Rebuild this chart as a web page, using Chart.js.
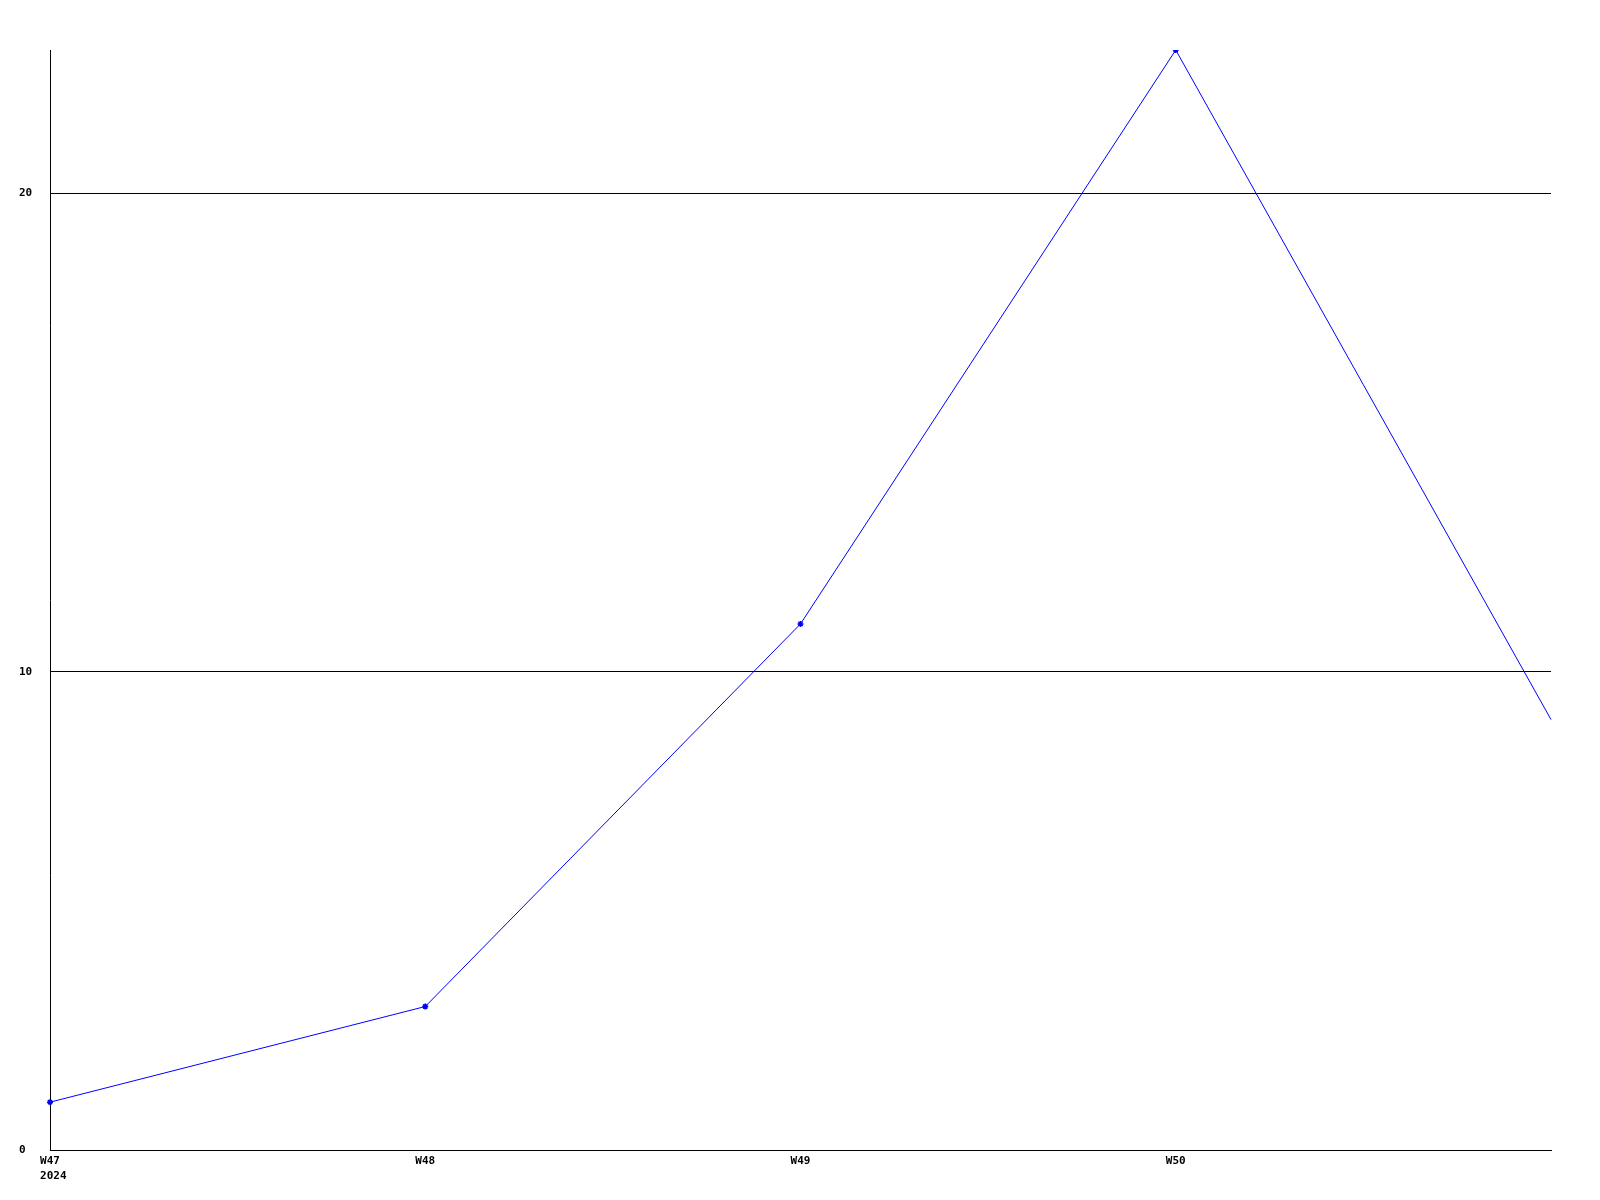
<!DOCTYPE html>
<html>
<head>
<meta charset="utf-8">
<script src="https://cdn.jsdelivr.net/npm/chart.js@4/dist/chart.umd.min.js"></script>
<style>
html,body{margin:0;padding:0;background:#fff;}
canvas{display:block;}
</style>
</head>
<body>
<canvas id="c" width="1600" height="1200"></canvas>
<script>
const weekLabels = ['W47', 'W48', 'W49', 'W50', 'W51'];
const yearLabel = '2024';
const values = [1, 3, 11, 23, 9];
const yTickStep = 10;
const yMax = 23;

const FONT = {family: "'DejaVu Sans Mono', monospace", size: 11, weight: 'bold', lineHeight: 15/11};

new Chart(document.getElementById('c'), {
  type: 'line',
  data: {
    labels: weekLabels,
    datasets: [{
      data: values,
      borderColor: '#0000ff',
      backgroundColor: '#0000ff',
      borderWidth: 1,
      pointStyle: 'star',
      pointRadius: (ctx) => ctx.dataIndex === weekLabels.length - 1 ? 0 : 3,
      pointBorderWidth: 1.5,
      tension: 0,
      fill: false
    }]
  },
  options: {
    responsive: false,
    animation: false,
    devicePixelRatio: 1,
    layout: {padding: {top: 50, right: 49, left: 19, bottom: 0}},
    plugins: {legend: {display: false}, tooltip: {enabled: false}},
    scales: {
      x: {
        type: 'category',
        offset: false,
        grid: {display: false, drawTicks: false},
        border: {display: true, color: '#000', width: 1},
        ticks: {
          color: '#000',
          font: FONT,
          padding: 4,
          maxRotation: 0,
          autoSkip: false,
          callback: function(v, i) {
            if (i === weekLabels.length - 1) return '';
            if (i === 0) return [weekLabels[i], ' ' + yearLabel];
            return weekLabels[i];
          }
        },
        afterFit: function(s) { s.height = 50; }
      },
      y: {
        min: 0,
        max: yMax,
        grid: {
          color: (ctx) => (ctx.tick && ctx.tick.value % yTickStep === 0) ? '#000' : 'rgba(0,0,0,0)',
          lineWidth: 1,
          drawTicks: false
        },
        border: {display: true, color: '#000', width: 1},
        ticks: {
          stepSize: yTickStep,
          color: '#000',
          font: FONT,
          padding: 0,
          crossAlign: 'far',
          callback: (v) => (v % yTickStep === 0) ? String(v) : ''
        },
        afterFit: function(s) { s.width = 31; }
      }
    }
  }
});
</script>
</body>
</html>
